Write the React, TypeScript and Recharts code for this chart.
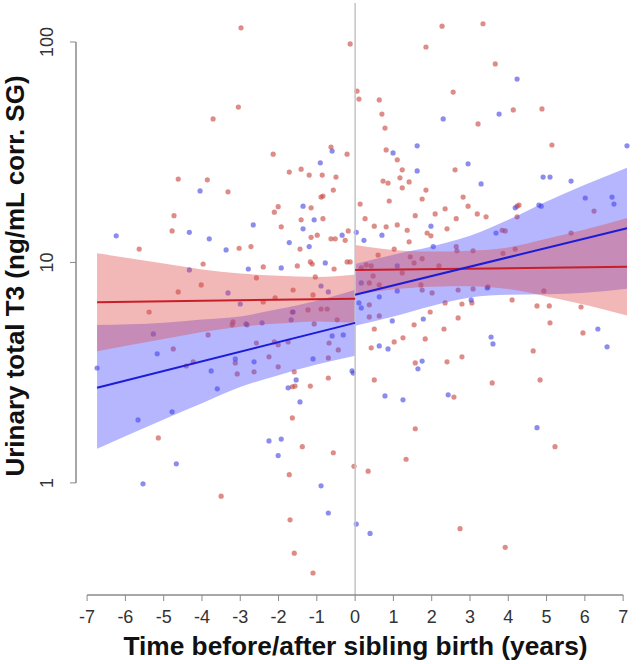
import React from 'react'
import { ComposedChart, Scatter, Line, Area, XAxis, YAxis, ReferenceLine } from 'recharts'

// points: [years from sibling birth, urinary T3]
const redBefore: [number, number][] = [
  [-2.98, 116], [-0.13, 98], [-3.05, 50.7], [-3.71, 44.8], [-4.62, 23.9], [-3.86, 23.7], [-3.32, 20.9],
  [-4.73, 16.3], [-4.78, 13.9], [-5.64, 11.5], [-3.03, 11.6], [-2.72, 11.8], [-3.97, 9.84], [-4.02, 7.91],
  [-4.62, 7.35], [-2.14, 31.0], [-1.72, 25.7], [-1.41, 26.5], [-1.2, 24.9], [-0.86, 24.9], [-0.5, 24.4],
  [-0.89, 19.8], [-0.84, 20.0], [-0.57, 21.3], [-0.63, 33.4], [-0.21, 31.0], [-2.11, 16.9], [-2.01, 17.9],
  [-1.15, 17.7], [-1.41, 15.6], [-0.84, 15.8], [-1.93, 14.5], [-1.15, 13.0], [-0.99, 13.3], [-0.63, 12.8],
  [-0.52, 12.8], [-0.18, 13.9], [-0.26, 12.6], [-1.44, 11.5], [-2.4, 9.54], [-1.51, 9.64], [-1.17, 10.05],
  [-1.12, 9.84], [-0.55, 9.34], [-0.21, 10.05], [-0.13, 10.05], [-2.58, 8.51], [-1.62, 7.5], [-1.04, 8.6],
  [-1.1, 7.12], [-2.09, 6.9], [-2.4, 6.62], [-5.38, 5.96], [-1.23, 6.09], [-2.82, 5.21], [-1.64, 5.96],
  [-0.89, 6.15], [-0.73, 6.15], [-0.47, 5.49], [-1.07, 5.26], [-2.58, 4.31], [-2.11, 4.36], [-2.01, 4.23],
  [-1.75, 4.36], [-0.68, 4.31], [-0.44, 4.01], [-2.25, 3.73], [-2.64, 3.19], [-2.01, 3.36], [-0.7, 3.69],
  [-1.59, 3.19], [-1.64, 2.73], [-1.57, 2.75], [-1.17, 2.75], [-0.7, 2.99], [-1.64, 1.97], [-1.38, 1.46],
  [-0.57, 1.37], [-1.72, 1.09], [-0.03, 1.19], [-1.7, 0.68], [-1.59, 0.48], [-1.1, 0.39], [-4.75, 4.05],
  [-4.41, 3.39], [-4.23, 3.54], [-3.19, 5.37], [-3.21, 5.21], [-3.13, 3.5], [-3.08, 3.12], [-5.14, 1.6],
  [-3.5, 0.87], [-3.84, 4.69],
]

const redAfter: [number, number][] = [
  [0.05, 59.9], [0.1, 55.1], [2.27, 118], [3.34, 121], [1.85, 94.9], [3.66, 79.5], [2.56, 59.3], [0.63, 54.6],
  [0.7, 47.1], [3.21, 42.5], [0.78, 40.7], [0.81, 32.4], [1.1, 29.2], [1.23, 26.3], [2.61, 26.3], [0.73, 23.4],
  [0.86, 22.9], [1.17, 24.2], [1.41, 23.2], [1.23, 21.8], [1.85, 21.3], [0.89, 19.0], [1.75, 19.4], [2.82, 19.8],
  [0.13, 18.4], [2.95, 18.0], [1.57, 16.3], [2.09, 16.6], [2.35, 17.5], [3.19, 16.6], [3.42, 16.1], [0.26, 15.8],
  [2.64, 15.8], [0.5, 14.6], [0.81, 14.5], [1.1, 14.8], [1.36, 14.0], [2.4, 14.2], [1.88, 13.6], [1.98, 13.2],
  [1.41, 12.4], [1.02, 11.5], [2.64, 11.8], [2.66, 11.3], [3.08, 11.3], [0.6, 10.8], [1.44, 10.6], [1.54, 9.95],
  [1.75, 10.4], [0.29, 9.74], [0.42, 9.64], [0.47, 8.69], [1.23, 8.96], [2.19, 9.64], [0.63, 7.91], [0.37, 8.07],
  [1.72, 7.91], [1.75, 7.5], [2.01, 7.27], [3.08, 7.58], [3.47, 7.74], [2.69, 7.5], [0.16, 9.44], [0.37, 6.42],
  [0.37, 5.66], [0.63, 5.72], [0.5, 4.99], [0.42, 4.1], [1.02, 4.36], [1.25, 4.55], [1.54, 5.21], [1.96, 5.96],
  [1.83, 4.5], [2.32, 4.99], [2.35, 6.55], [2.79, 6.48], [2.69, 5.6], [1.57, 3.5], [2.4, 3.54], [2.79, 3.73],
  [0.5, 2.93], [2.58, 2.45], [3.58, 2.84], [1.57, 1.76], [1.33, 1.28], [0.34, 1.13], [2.74, 0.62], [4.13, 49.2],
  [4.88, 49.7], [5.14, 34.1], [4.23, 18.0], [4.28, 18.2], [6.24, 17.1], [4.23, 16.1], [3.92, 13.9], [3.84, 14.0],
  [5.64, 13.6], [3.86, 11.0], [4.18, 11.5], [4.93, 7.43], [4.1, 6.76], [4.75, 6.35], [5.07, 6.35], [5.9, 6.28],
  [5.09, 5.32], [5.95, 4.79], [4.65, 3.97], [4.83, 2.93], [5.22, 1.46], [3.92, 0.51], [3.05, 6.55],
]

const blueBefore: [number, number][] = [
  [-4.05, 21.1], [-4.33, 13.7], [-6.24, 13.2], [-3.81, 12.8], [-3.37, 11.4], [-4.33, 9.25], [-3.32, 7.27],
  [-0.91, 28.3], [-0.6, 32.0], [-1.36, 18.0], [-1.07, 15.6], [-2.66, 14.8], [-1.36, 14.2], [-0.34, 13.3],
  [-1.72, 12.3], [-1.2, 11.8], [-2.79, 9.34], [-1.93, 9.44], [-0.78, 9.95], [-0.89, 7.82], [-0.7, 7.35],
  [-3.0, 6.48], [-1.62, 5.96], [-2.85, 5.26], [-2.43, 5.32], [-1.67, 5.49], [-0.6, 4.64], [-0.31, 4.69],
  [-2.64, 3.54], [-1.1, 3.65], [-1.54, 2.93], [-1.75, 2.7], [-0.08, 3.22], [-0.05, 3.15], [-1.44, 2.33],
  [-2.25, 1.55], [-1.93, 1.58], [-2.01, 1.33], [-0.89, 0.97], [-0.7, 0.73], [-5.27, 4.74], [-5.17, 3.85],
  [-6.74, 3.32], [-3.76, 3.22], [-3.13, 3.65], [-3.6, 2.67], [-4.78, 2.1], [-5.67, 1.93], [-4.67, 1.22],
  [-5.54, 0.99],
]

const blueAfter: [number, number][] = [
  [0.03, 13.7], [0.23, 12.6], [0.7, 13.3], [2.3, 44.8], [3.76, 47.1], [1.62, 33.8], [0.99, 31.4], [1.62, 26.0],
  [2.95, 28.0], [3.29, 22.7], [1.98, 14.6], [2.04, 11.8], [3.68, 13.6], [1.1, 9.64], [0.63, 6.98], [1.1, 7.43],
  [0.16, 8.07], [0.1, 6.55], [0.16, 6.22], [0.63, 4.18], [0.86, 4.05], [0.97, 5.43], [1.78, 5.54], [1.75, 3.57],
  [1.64, 3.29], [0.78, 2.48], [1.25, 2.38], [2.43, 2.51], [3.55, 4.59], [3.6, 4.27], [0.03, 0.65], [0.39, 0.59],
  [3.03, 6.76], [4.23, 67.9], [7.1, 33.8], [4.91, 24.4], [5.09, 24.4], [5.64, 23.4], [4.18, 17.7], [4.8, 18.2],
  [4.86, 18.0], [6.01, 19.6], [6.71, 19.8], [6.76, 18.4], [6.34, 4.99], [6.58, 4.14], [4.75, 1.78], [3.45, 7.66],
]

// fitted lines (ends of each segment)
const fitXBefore = [-6.74, 0]
const redFitBefore = [6.6, 6.85]
const blueFitBefore = [2.7, 5.32]
const fitXAfter = [0, 7.1]
const redFitAfter = [9.25, 9.55]
const blueFitAfter = [7.13, 14.3]

// confidence bands read at a few x positions
const bandXBefore = [-6.74, -5, -4, -3, -2, -1, 0]
const redLoBefore = [3.95, 4.49, 4.83, 5.11, 5.28, 5.4, 5.33]
const redHiBefore = [11.0, 9.9, 9.3, 8.9, 8.7, 8.6, 8.8]
const blueLoBefore = [1.43, 1.94, 2.3, 2.72, 3.08, 3.44, 3.77]
const blueHiBefore = [5.2, 5.33, 5.51, 5.69, 6.15, 6.71, 7.52]
const bandXAfter = [0, 1, 2, 3, 4, 5, 6, 7.1]
const redLoAfter = [7.13, 7.55, 7.76, 7.8, 7.57, 7.01, 6.43, 5.74]
const redHiAfter = [12.0, 11.4, 11.2, 11.3, 11.7, 12.8, 14.1, 15.9]
const blueLoAfter = [5.16, 5.69, 6.35, 6.93, 7.13, 7.18, 7.29, 7.59]
const blueHiAfter = [9.84, 10.85, 11.8, 13.2, 15.6, 18.9, 22.5, 26.9]

const xTicks = [-7, -6, -5, -4, -3, -2, -1, 0, 1, 2, 3, 4, 5, 6, 7]
const yTicks = [1, 10, 100]

const FONT = '"Liberation Sans", Arial, sans-serif'
const RED = '#c8463e'
const BLUE = '#4646e0'

const toPts = (arr: [number, number][]) => arr.map(([x, y]) => ({ x, y }))
const toFit = (xs: number[], red: number[], blue: number[]) =>
  xs.map((x, i) => ({ x, red: red[i], blue: blue[i] }))
const toBand = (xs: number[], rl: number[], rh: number[], bl: number[], bh: number[]) =>
  xs.map((x, i) => ({ x, red: [rl[i], rh[i]], blue: [bl[i], bh[i]] }))

const fitBefore = toFit(fitXBefore, redFitBefore, blueFitBefore)
const fitAfter = toFit(fitXAfter, redFitAfter, blueFitAfter)
const bandBefore = toBand(bandXBefore, redLoBefore, redHiBefore, blueLoBefore, blueHiBefore)
const bandAfter = toBand(bandXAfter, redLoAfter, redHiAfter, blueLoAfter, blueHiAfter)

const dot = (color: string) => (p: any) =>
  <circle cx={p.cx} cy={p.cy} r={2.6} fill={color} fillOpacity={0.62} />

const XTick = (p: any) => (
  <text x={p.x} y={p.y + 20} textAnchor="middle" fontSize={18} fontFamily={FONT} fill="#333">
    {p.payload.value}
  </text>
)

const YTick = (p: any) => {
  const x = p.x - 15
  return (
    <text x={x} y={p.y} transform={`rotate(-90, ${x}, ${p.y})`} textAnchor="middle" fontSize={18} fontFamily={FONT} fill="#333">
      {p.payload.value}
    </text>
  )
}

export default function App() {
  return (
    <div style={{ position: 'absolute', left: 0, top: 0, width: 642, height: 664, background: '#fff' }}>
      <ComposedChart width={642} height={664} margin={{ top: 3, right: 2, bottom: 29, left: 16 }}>
        <XAxis
          type="number"
          dataKey="x"
          domain={[-7.29, 7.44]}
          allowDataOverflow
          ticks={xTicks}
          interval={0}
          height={40}
          axisLine={false}
          tickLine={{ stroke: '#8a8a8a' }}
          tickSize={6}
          tick={<XTick />}
        />
        <YAxis
          type="number"
          dataKey="y"
          scale="log"
          domain={[0.31, 150.3]}
          allowDataOverflow
          ticks={yTicks}
          interval={0}
          width={60}
          axisLine={false}
          tickLine={{ stroke: '#8a8a8a' }}
          tickSize={6}
          tick={<YTick />}
        />
        <ReferenceLine x={0} stroke="#c4c4c4" strokeWidth={1.5} />
        <ReferenceLine segment={[{ x: -7, y: 0.31 }, { x: 7, y: 0.31 }]} stroke="#8a8a8a" strokeWidth={1.5} ifOverflow="visible" />
        <ReferenceLine segment={[{ x: -7.29, y: 1 }, { x: -7.29, y: 100 }]} stroke="#8a8a8a" strokeWidth={1.5} ifOverflow="visible" />

        <Scatter data={toPts(redBefore)} shape={dot(RED)} isAnimationActive={false} zIndex={50} />
        <Scatter data={toPts(redAfter)} shape={dot(RED)} isAnimationActive={false} zIndex={50} />
        <Scatter data={toPts(blueBefore)} shape={dot(BLUE)} isAnimationActive={false} zIndex={50} />
        <Scatter data={toPts(blueAfter)} shape={dot(BLUE)} isAnimationActive={false} zIndex={50} />

        <Area data={bandBefore} dataKey="blue" type="monotone" stroke="none" fill="#4848ff" fillOpacity={0.4} isAnimationActive={false} />
        <Area data={bandAfter} dataKey="blue" type="monotone" stroke="none" fill="#4848ff" fillOpacity={0.4} isAnimationActive={false} />
        <Area data={bandBefore} dataKey="red" type="monotone" stroke="none" fill="#de4c4c" fillOpacity={0.4} isAnimationActive={false} />
        <Area data={bandAfter} dataKey="red" type="monotone" stroke="none" fill="#de4c4c" fillOpacity={0.4} isAnimationActive={false} />

        <Line data={fitBefore} dataKey="red" stroke="#c81e28" strokeWidth={2} dot={false} activeDot={false} isAnimationActive={false} />
        <Line data={fitAfter} dataKey="red" stroke="#c81e28" strokeWidth={2} dot={false} activeDot={false} isAnimationActive={false} />
        <Line data={fitBefore} dataKey="blue" stroke="#1c1cd8" strokeWidth={2} dot={false} activeDot={false} isAnimationActive={false} />
        <Line data={fitAfter} dataKey="blue" stroke="#1c1cd8" strokeWidth={2} dot={false} activeDot={false} isAnimationActive={false} />
      </ComposedChart>
      <svg width={642} height={664} style={{ position: 'absolute', left: 0, top: 0, pointerEvents: 'none' }}>
        <text x={355.5} y={655} textAnchor="middle" fontSize={26.3} fontWeight="bold" fontFamily={FONT} fill="#111">
          Time before/after sibling birth (years)
        </text>
        <text x={24} y={276} transform="rotate(-90, 24, 276)" textAnchor="middle" fontSize={26} fontWeight="bold" fontFamily={FONT} fill="#111">
          Urinary total T3 (ng/mL corr. SG)
        </text>
      </svg>
    </div>
  )
}
